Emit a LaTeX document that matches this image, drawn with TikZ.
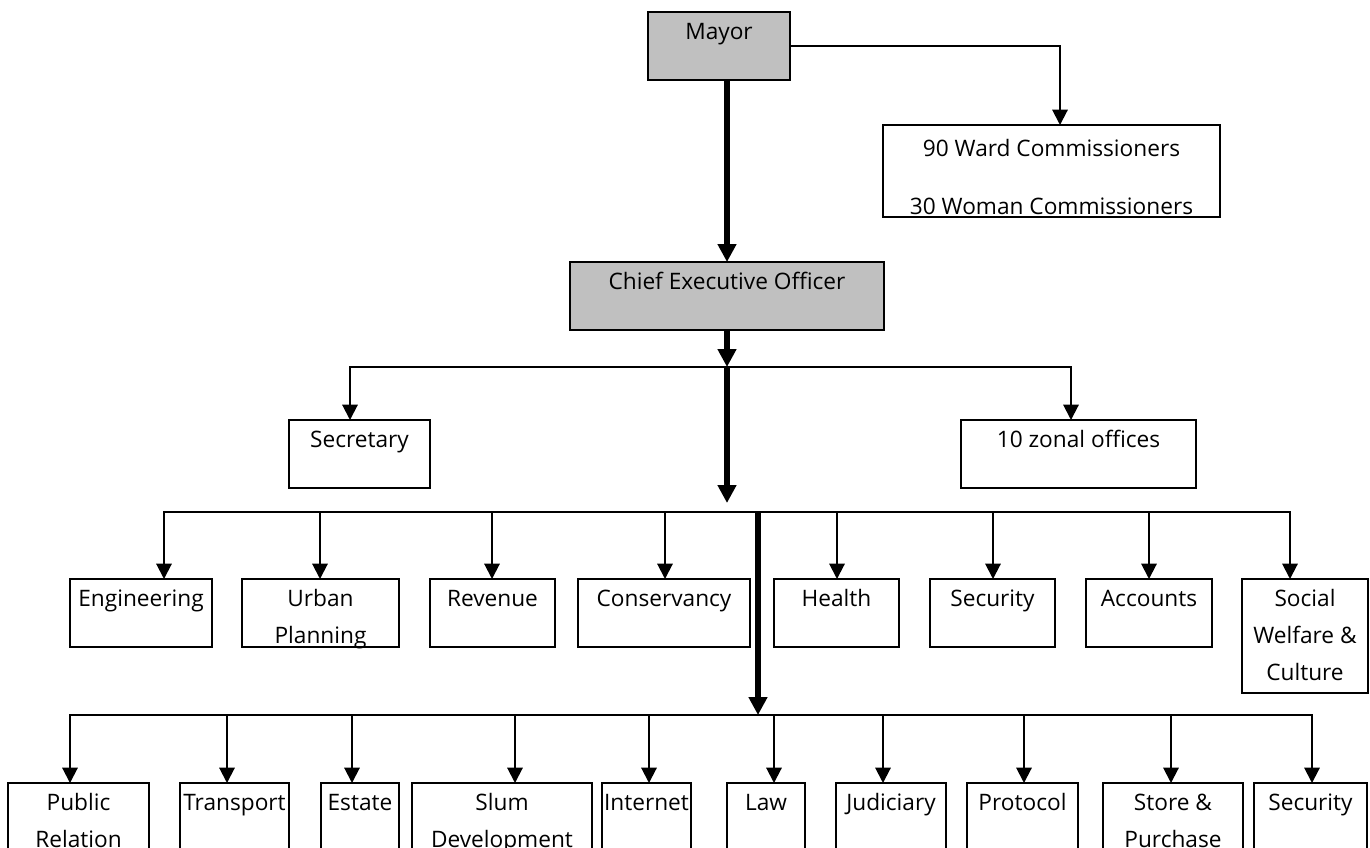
\documentclass[tikz,border=0pt]{standalone}
\usepackage{fontspec}
\newfontfamily\osans{Open Sans}
\usetikzlibrary{arrows.meta}
\definecolor{boxgray}{HTML}{C0C0C0}
\tikzset{
  bx/.style={draw=black, line width=1.5pt, rectangle, inner sep=0pt, fill=white},
  gbx/.style={bx, fill=boxgray},
  tx/.style={align=center, anchor=north, inner sep=0pt, font=\osans\fontsize{17pt}{28pt}\selectfont},
  arr/.style={line width=1.5pt, -{Triangle[length=11.5pt,width=11.5pt]}},
  tarr/.style={line width=4.5pt, -{Triangle[length=13.5pt,width=13.5pt]}},
}
% name, x1, y1, x2, y2, arrow-x, style, text yshift, text
\newcommand\obox[9]{%
  \node[#7, minimum width={(#4-#2)*0.75pt}, minimum height={(#5-#3)*0.75pt}] (#1) at ({(#2+#4)/2},{(#3+#5)/2}) {};
  \node[tx] (#1-t) at ([yshift=#8]#1.north) {\strut #9};
  \coordinate (#1-in) at (#6,#3);
}
\begin{document}
\begin{tikzpicture}[x=0.75pt,y=-0.75pt]
\useasboundingbox (0,0) rectangle (1370,847);
\clip (0,0) rectangle (1370,847);
% top
\obox{mayor}{648}{12}{790}{80}{719}{gbx}{-1.4pt}{Mayor}
\obox{ward}{883}{125}{1220}{217}{1060}{bx}{-4.4pt}{90 Ward Commissioners\\[15.5pt]30 Woman Commissioners}
\obox{ceo}{570}{262}{884}{330}{727}{gbx}{-1.4pt}{Chief Executive Officer}
\obox{sec}{289}{420}{430}{488}{350}{bx}{-1.4pt}{Secretary}
\obox{zon}{961}{420}{1196}{488}{1071}{bx}{-1.4pt}{10 zonal offices}
% row 1
\obox{eng}{70}{579}{212}{647}{164}{bx}{-1.4pt}{Engineering}
\obox{urb}{242}{579}{399}{647}{320}{bx}{-1.4pt}{Urban\\Planning}
\obox{rev}{430}{579}{555}{647}{492}{bx}{-1.4pt}{Revenue}
\obox{con}{578}{579}{750}{647}{665}{bx}{-1.4pt}{Conservancy}
\obox{hea}{774}{579}{899}{647}{837}{bx}{-1.4pt}{Health}
\obox{secu}{930}{579}{1055}{647}{993}{bx}{-1.4pt}{Security}
\obox{acc}{1086}{579}{1212}{647}{1149}{bx}{-1.4pt}{Accounts}
\obox{soc}{1242}{579}{1368}{693}{1290}{bx}{-1.4pt}{Social\\Welfare \&\\Culture}
% row 2
\obox{pub}{8}{783}{149}{900}{70}{bx}{-1.4pt}{Public\\Relation}
\obox{tra}{180}{783}{289}{900}{227}{bx}{-1.4pt}{Transport}
\obox{est}{321}{783}{399}{900}{352}{bx}{-1.4pt}{Estate}
\obox{slu}{412}{783}{592}{900}{515}{bx}{-1.4pt}{Slum\\Development}
\obox{int}{602}{783}{691}{900}{649}{bx}{-1.4pt}{Internet}
\obox{law}{727}{783}{805}{900}{774}{bx}{-1.4pt}{Law}
\obox{jud}{836}{783}{946}{900}{883}{bx}{-1.4pt}{Judiciary}
\obox{pro}{967}{783}{1078}{900}{1024}{bx}{-1.4pt}{Protocol}
\obox{sto}{1103}{783}{1243}{900}{1171}{bx}{-1.4pt}{Store \&\\Purchase}
\obox{sec2}{1254}{783}{1367}{900}{1312}{bx}{-1.4pt}{Security}
% junctions
\coordinate (j1) at (727,367);
\coordinate (j2a) at (727,503);
\coordinate (j2) at (758,512);
\coordinate (j3) at (758,715);
% connectors
\draw[arr] (mayor.east) -| (ward-in);
\draw[tarr] (mayor.south -| ceo-in) -- (ceo-in);
\draw[tarr] (ceo.south) -- (j1);
\draw[arr] (j1) -| (sec-in);
\draw[arr] (j1) -| (zon-in);
\draw[tarr] (j1) -- (j2a);
\foreach \b in {eng,urb,rev,con,hea,secu,acc,soc} \draw[arr] (j2) -| (\b-in);
\draw[tarr] (j2) -- (j3);
\foreach \b in {pub,tra,est,slu,int,law,jud,pro,sto,sec2} \draw[arr] (j3) -| (\b-in);
\end{tikzpicture}
\end{document}
